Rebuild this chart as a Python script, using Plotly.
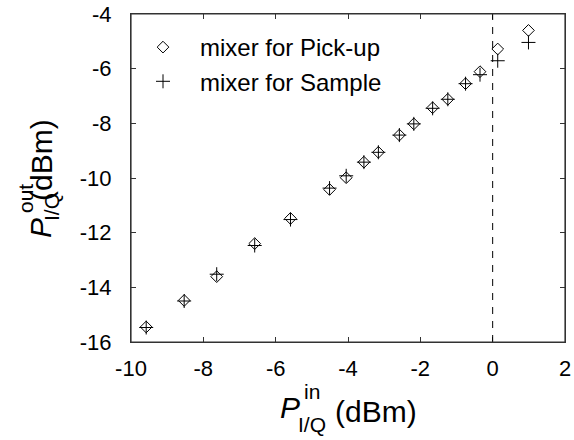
import plotly.graph_objects as go

p_in = [-9.58, -8.53, -7.63, -6.58, -5.59, -4.51, -4.05, -3.56, -3.16, -2.58,
        -2.18, -1.66, -1.24, -0.75, -0.35, 0.14, 0.99]
pickup = [-15.45, -14.48, -13.61, -12.40, -11.48, -10.42, -9.99, -9.42, -9.06,
          -8.43, -8.02, -7.43, -7.12, -6.55, -6.11, -5.28, -4.60]
sample = [-15.47, -14.50, -13.52, -12.47, -11.52, -10.37, -9.92, -9.42, -9.06,
          -8.43, -8.02, -7.45, -7.12, -6.55, -6.22, -5.71, -5.04]
x_ticks = [-10, -8, -6, -4, -2, 0, 2]
y_ticks = [-16, -14, -12, -10, -8, -6, -4]
x_labels = [str(v) for v in x_ticks]
y_labels = [str(v) for v in y_ticks]

FONT = "Liberation Sans"
W, H = 574, 440
PL, PR, PT, PB = 131, 565, 14, 342  # plot area in page pixels
L, T = PL, PT
R, B = W - PR, H - PB


def px(xp):
    return (xp - PL) / (PR - PL)


def py(yp):
    return (PB - yp) / (PB - PT)


fig = go.Figure()
fig.add_trace(go.Scatter(x=p_in, y=pickup, mode="markers", name="mixer for Pick-up",
                         marker=dict(symbol="diamond-open", size=9, color="black",
                                     line=dict(width=1, color="black"))))
fig.add_trace(go.Scatter(x=p_in, y=sample, mode="markers", name="mixer for Sample",
                         marker=dict(symbol="cross-thin-open", size=10, color="black",
                                     line=dict(width=1, color="black"))))
fig.add_vline(x=0, line=dict(color="black", width=1, dash="7px,7px"))
fig.add_shape(type="rect", xref="paper", yref="paper", x0=0, x1=1, y0=0, y1=1,
              fillcolor="rgba(0,0,0,0)", line=dict(color="#333", width=1.2),
              layer="above")

axis_common = dict(showgrid=False, zeroline=False, showline=True, linecolor="#333",
                   linewidth=1.2, mirror="ticks", ticks="inside", ticklen=5,
                   tickwidth=1, automargin=False,
                   tickcolor="#333", tickfont=dict(family=FONT, size=22, color="black"))
fig.update_xaxes(range=[-10, 2], tickvals=x_ticks, ticktext=x_labels,
                 ticklabelstandoff=6, **axis_common)
fig.update_yaxes(range=[-16, -4], tickvals=y_ticks, ticktext=y_labels,
                 ticklabelstandoff=14, **axis_common)

ann = []


def add(text, xp, yp, size, angle=0, italic=False):
    ann.append(dict(text=text, x=px(xp), y=py(yp), xref="paper", yref="paper",
                    xanchor="center", yanchor="middle", showarrow=False, textangle=angle,
                    font=dict(family=FONT, size=size, color="black",
                              style="italic" if italic else "normal")))


# x title
add("P", 290, 407, 30, italic=True)
add("in", 312, 391, 21)
add("I/Q", 312, 425, 21)
add("(dBm)", 376, 411, 30)
# y title
add("P", 40, 228, 30, angle=-90, italic=True)
add("out", 26, 199, 21, angle=-90)
add("I/Q", 51, 207, 21, angle=-90)
add("(dBm)", 42, 160, 30, angle=-90)

fig.update_layout(
    width=W, height=H, margin=dict(l=L, r=R, t=T, b=B, pad=0, autoexpand=False),
    plot_bgcolor="white", paper_bgcolor="white",
    font=dict(family=FONT, size=22, color="black"),
    annotations=ann,
    legend=dict(x=px(126), y=py(25), xanchor="left", yanchor="top",
                font=dict(family=FONT, size=24, color="black"),
                bgcolor="rgba(0,0,0,0)", tracegroupgap=0, itemwidth=64),
)
fig.write_html("out.html", config={"displayModeBar": False},
               post_script="document.body.style.margin='0';")
